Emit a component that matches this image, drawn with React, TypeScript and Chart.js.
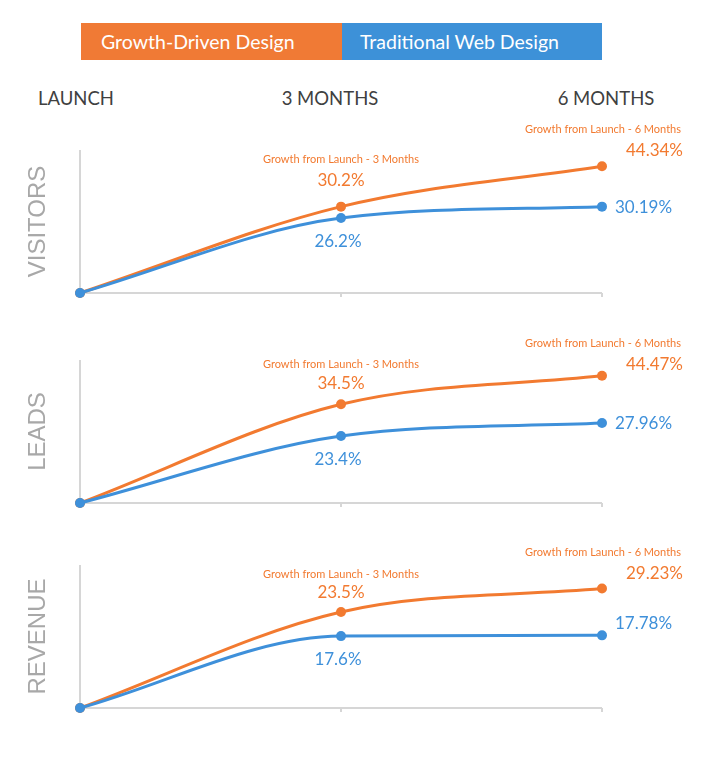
import React, { useEffect, useRef } from "react";
import { Chart, registerables } from "chart.js";

Chart.register(...registerables);

const categories = ["LAUNCH", "3 MONTHS", "6 MONTHS"];
const seriesNames = ["Growth-Driven Design", "Traditional Web Design"];
const metrics = ["VISITORS", "LEADS", "REVENUE"];
const gddVisitors = [0, 30.2, 44.34];
const twdVisitors = [0, 26.2, 30.19];
const gddLeads = [0, 34.5, 44.47];
const twdLeads = [0, 23.4, 27.96];
const gddRevenue = [0, 23.5, 29.23];
const twdRevenue = [0, 17.6, 17.78];
const yMaxima = [50, 50, 35];
const growthTitles = ["", "Growth from Launch - 3 Months", "Growth from Launch - 6 Months"];

const ORANGE = "#F27A30";
const BLUE = "#3E90DA";
const AXIS = "#d6d6d6";
const FONT = "Lato, 'Open Sans', sans-serif";

const gddAll = [gddVisitors, gddLeads, gddRevenue];
const twdAll = [twdVisitors, twdLeads, twdRevenue];

// layout (page coordinates of plot areas, label offsets)
const panelLayout = [
  { top: 150, bottom: 293, t3: -47, v3: -26, t6: -37, v6: -16, b6: 1 },
  { top: 360, bottom: 503, t3: -40, v3: -21, t6: -32, v6: -11, b6: 0 },
  { top: 565, bottom: 708, t3: -38, v3: -19, t6: -36, v6: -15, b6: -12 },
];
const PAD_TOP = 45;
const PAD_BOTTOM = 20;
const PLOT_LEFT = 80;
const PLOT_RIGHT = 602;
const WIDTH = 720;

function fmt(v: number) {
  return v + "%";
}

function Panel({ index }: { index: number }) {
  const ref = useRef<HTMLCanvasElement | null>(null);
  const lay = panelLayout[index];
  const height = lay.bottom - lay.top + PAD_TOP + PAD_BOTTOM;
  useEffect(() => {
    if (!ref.current) return;
    const gdd = gddAll[index];
    const twd = twdAll[index];
    const plugin = {
      id: "panelDeco",
      beforeDatasetsDraw(chart: any) {
        const { ctx, chartArea, scales } = chart;
        const xs = scales.x;
        ctx.save();
        ctx.strokeStyle = AXIS;
        ctx.lineWidth = 2;
        ctx.beginPath();
        ctx.moveTo(chartArea.left, chartArea.top);
        ctx.lineTo(chartArea.left, chartArea.bottom);
        ctx.lineTo(chartArea.right, chartArea.bottom);
        ctx.stroke();
        for (let i = 1; i < categories.length; i++) {
          const px = xs.getPixelForValue(i);
          ctx.beginPath();
          ctx.moveTo(px, chartArea.bottom);
          ctx.lineTo(px, chartArea.bottom + 4);
          ctx.stroke();
        }
        // metric label
        ctx.translate(38, (chartArea.top + chartArea.bottom) / 2);
        ctx.rotate(-Math.PI / 2);
        ctx.fillStyle = "#a8a8a8";
        ctx.font = "24px 'Liberation Sans', Arial, sans-serif";
        ctx.textAlign = "center";
        ctx.textBaseline = "middle";
        ctx.fillText(metrics[index], 0, 0);
        ctx.restore();
      },
      afterDatasetsDraw(chart: any) {
        const { ctx, scales } = chart;
        const xs = scales.x;
        const ys = scales.y;
        ctx.save();
        ctx.textBaseline = "middle";
        // 3 months
        const x3 = xs.getPixelForValue(1);
        const yo3 = ys.getPixelForValue(gdd[1]);
        const yb3 = ys.getPixelForValue(twd[1]);
        ctx.textAlign = "center";
        ctx.fillStyle = ORANGE;
        ctx.font = `11px ${FONT}`;
        ctx.fillText(growthTitles[1], x3, yo3 + lay.t3);
        ctx.font = `17px ${FONT}`;
        ctx.fillText(fmt(gdd[1]), x3, yo3 + lay.v3);
        ctx.fillStyle = BLUE;
        ctx.fillText(fmt(twd[1]), x3 - 3, yb3 + 23);
        // 6 months
        const x6 = xs.getPixelForValue(2);
        const yo6 = ys.getPixelForValue(gdd[2]);
        const yb6 = ys.getPixelForValue(twd[2]);
        ctx.fillStyle = ORANGE;
        ctx.font = `11px ${FONT}`;
        ctx.fillText(growthTitles[2], x6 + 1, yo6 + lay.t6);
        ctx.font = `17px ${FONT}`;
        ctx.textAlign = "right";
        ctx.fillText(fmt(gdd[2]), x6 + 81, yo6 + lay.v6);
        ctx.textAlign = "left";
        ctx.fillStyle = BLUE;
        ctx.fillText(fmt(twd[2]), x6 + 13, yb6 + lay.b6);
        ctx.restore();
      },
    };
    const common = {
      borderWidth: 3,
      pointRadius: 5,
      pointBorderWidth: 0,
      cubicInterpolationMode: "monotone" as const,
      clip: false as any,
    };
    const chart = new Chart(ref.current, {
      type: "line",
      data: {
        labels: categories,
        datasets: [
          {
            label: seriesNames[1],
            data: twd,
            borderColor: BLUE,
            backgroundColor: BLUE,
            pointBackgroundColor: BLUE,
            ...common,
          },
          {
            label: seriesNames[0],
            data: gdd,
            borderColor: ORANGE,
            backgroundColor: ORANGE,
            pointBackgroundColor: ORANGE,
            ...common,
          },
        ],
      },
      options: {
        responsive: false,
        animation: false,
        devicePixelRatio: 1,
        layout: {
          padding: {
            left: PLOT_LEFT,
            right: WIDTH - PLOT_RIGHT,
            top: PAD_TOP,
            bottom: PAD_BOTTOM,
          },
        },
        scales: {
          x: { type: "category", display: false, offset: false },
          y: { type: "linear", display: false, min: 0, max: yMaxima[index] },
        },
        plugins: {
          legend: { display: false },
          tooltip: { enabled: false },
        },
      },
      plugins: [plugin],
    });
    return () => chart.destroy();
  }, [index]);
  return (
    <canvas
      ref={ref}
      width={WIDTH}
      height={height}
      style={{
        position: "absolute",
        left: 0,
        top: lay.top - PAD_TOP,
        width: WIDTH,
        height,
      }}
    />
  );
}

const headerCenters = [76, 330, 606];

export default function App() {
  return (
    <div
      style={{
        position: "absolute",
        left: 0,
        top: 0,
        width: 720,
        height: 761,
        background: "#fff",
        fontFamily: FONT,
        overflow: "hidden",
      }}
    >
      <div
        style={{
          position: "absolute",
          left: 81,
          top: 23,
          width: 261,
          height: 37,
          background: "#F07A35",
          color: "#fff",
          fontSize: 19.5,
          lineHeight: "37px",
          paddingLeft: 20,
          boxSizing: "border-box",
          whiteSpace: "nowrap",
        }}
      >
        {seriesNames[0]}
      </div>
      <div
        style={{
          position: "absolute",
          left: 342,
          top: 23,
          width: 260,
          height: 37,
          background: "#3D91D8",
          color: "#fff",
          fontSize: 19.5,
          lineHeight: "37px",
          paddingLeft: 18,
          boxSizing: "border-box",
          whiteSpace: "nowrap",
        }}
      >
        {seriesNames[1]}
      </div>
      {categories.map((c, i) => (
        <div
          key={c}
          style={{
            position: "absolute",
            left: headerCenters[i] - 80,
            width: 160,
            top: 86,
            textAlign: "center",
            fontSize: 18.5,
            lineHeight: "24px",
            color: "#404040",
          }}
        >
          {c}
        </div>
      ))}
      {metrics.map((m, i) => (
        <Panel key={m} index={i} />
      ))}
    </div>
  );
}
